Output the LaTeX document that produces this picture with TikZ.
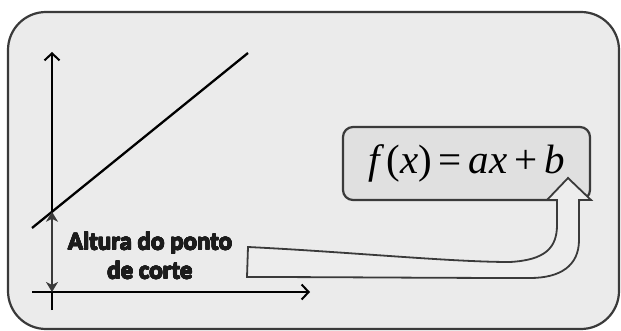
\documentclass[tikz,border=0pt]{standalone}
\usepackage{fontspec}
\usepackage[copies]{contour}
\usetikzlibrary{arrows.meta}
\newfontfamily\labelfont{Carlito}
\newfontfamily\eqfont{Liberation Serif}
\definecolor{panelgrey}{HTML}{EBEBEB}
\definecolor{eqgrey}{HTML}{E0E0E0}
\definecolor{edgegrey}{HTML}{3A3A3A}
\definecolor{inkgrey}{HTML}{1C1C1C}
\contourlength{0.45pt}

\begin{document}
\begin{tikzpicture}[x=1pt, y=-1pt,
    panel/.style={draw=edgegrey, fill=panelgrey, line width=2.2pt, rounded corners=38pt},
    axis/.style={line width=2pt, -{Straight Barb[length=7pt, width=15pt, line width=2pt]}},
    heightarrow/.style={draw=edgegrey, line width=1.8pt, {Stealth[length=10pt, width=12pt, inset=3pt]}-{Stealth[length=10pt, width=12pt, inset=3pt]}},
    eqbox/.style={draw=edgegrey, fill=eqgrey, line width=2.2pt, rounded corners=10pt, minimum width=247pt, minimum height=73pt, inner sep=0pt},
    bigarrow/.style={draw=edgegrey, fill=panelgrey!90!white, line width=1.8pt, line join=miter},
    heightlabel/.style={align=center, font=\labelfont\bfseries\fontsize{25}{29}\selectfont, text=inkgrey}
  ]
    \useasboundingbox (0,0) rectangle (621,331);
    \draw[panel] (8,12) rectangle (619,329);

    % axes and the line
    \coordinate (o) at (52,292);
    \draw[axis] (52,310) -- (52,52);
    \draw[axis] (32,292) -- (310,292);
    \coordinate (start) at (32,228);
    \coordinate (stop) at (248,53);
    \draw[line width=2.3pt] (start) -- (stop);
    \coordinate (cut) at (52,211.8);
    \draw[heightarrow] (cut) -- (o);

    \node[heightlabel] (lbl) at (150,256) {\contour{inkgrey}{Altura do ponto}\\\contour{inkgrey}{de corte}};

    \node[eqbox] (eq) at (466.5,163.5) {\eqfont\fontsize{41}{41}\selectfont\textit{f\,}(\textit{x})\,=\,\textit{ax}\,+\,\textit{b}};

    % curved block arrow up into the formula
    \coordinate (tip) at (568,178);
    \draw[bigarrow] (248,247) .. controls (350,252) and (450,262) .. (510,262)
      .. controls (545,260) and (557,248) .. (557,225) -- (557,200) -- (547,200)
      -- (tip) -- (591,200) -- (579,200) -- (579,240)
      .. controls (579,266) and (560,278) .. (530,278)
      .. controls (430,278) and (330,277) .. (247,277) -- cycle;
\end{tikzpicture}
\end{document}
